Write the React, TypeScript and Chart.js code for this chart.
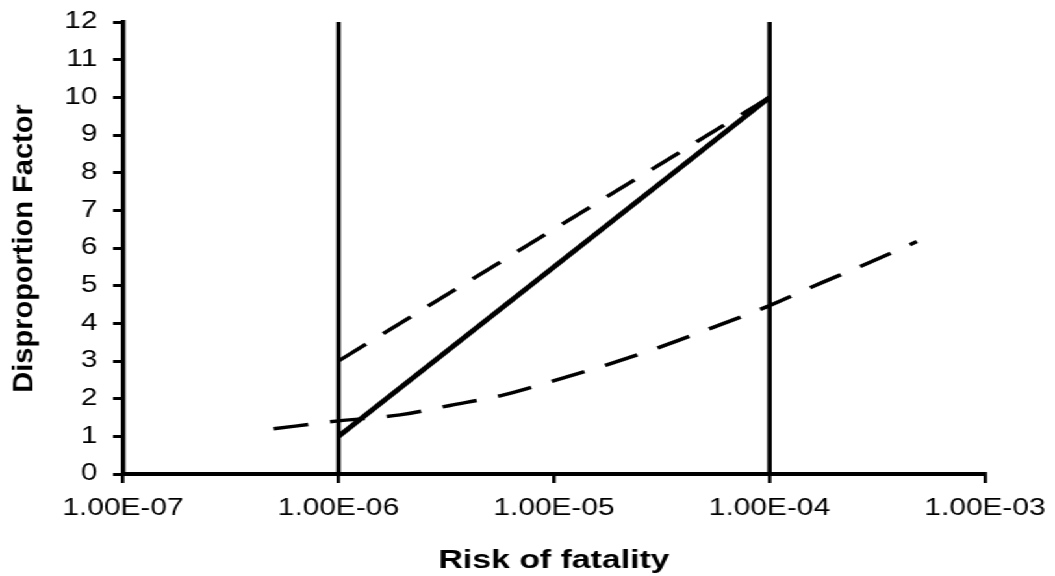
import { useEffect, useRef } from "react";
import { Chart, registerables } from "chart.js";

Chart.register(...registerables);

// ---- data ----
const xTickValues = [1e-7, 1e-6, 1e-5, 1e-4, 1e-3];
const xTickLabels = ["1.00E-07", "1.00E-06", "1.00E-05", "1.00E-04", "1.00E-03"];
const yMin = 0;
const yMax = 12;

const boundaryX = [1e-6, 1e-4];
const boundaryY = [0, 12];

const solidX = [1e-6, 1e-4];
const solidY = [1, 10];

const upperDashX = [1e-6, 1e-4];
const upperDashY = [3, 10];

const lowerDashX = [5e-7, 1e-6, 1.93e-6, 3.29e-6, 5.86e-6, 1.03e-5, 1.76e-5, 3.04e-5, 5.52e-5, 1e-4, 1.64e-4, 2.77e-4, 4.83e-4];
const lowerDashY = [1.2, 1.41, 1.57, 1.82, 2.1, 2.5, 2.9, 3.35, 3.9, 4.47, 5.01, 5.56, 6.17];

const xTitle = "Risk of fatality";
const yTitle = "Disproportion Factor";

// ---- layout ----
const LOGICAL_W = 812;
const H = 576;
const STRETCH = 1055 / LOGICAL_W;
const FONT = "'Liberation Sans', Arial, sans-serif";

const pts = (xs: number[], ys: number[]) => xs.map((x, i) => ({ x, y: ys[i] }));

const yTitlePlugin = {
  id: "yTitleUnstretched",
  afterDraw(chart: any) {
    const ctx = chart.ctx;
    ctx.save();
    ctx.translate(33 / STRETCH, 248.5);
    ctx.scale(1 / STRETCH, 1);
    ctx.rotate(-Math.PI / 2);
    ctx.fillStyle = "#000";
    ctx.font = `bold 29px ${FONT}`;
    ctx.textAlign = "center";
    ctx.textBaseline = "alphabetic";
    ctx.fillText(yTitle, 0, 0);
    ctx.restore();
  },
};

export default function App() {
  const ref = useRef<HTMLCanvasElement | null>(null);

  useEffect(() => {
    if (!ref.current) return;
    const dash = [27, 17];
    const chart = new Chart(ref.current, {
      type: "line",
      data: {
        datasets: [
          {
            label: "lower bound",
            data: pts([boundaryX[0], boundaryX[0]], boundaryY),
            borderColor: "#000",
            borderWidth: 3.5,
            pointRadius: 0,
            tension: 0,
          },
          {
            label: "upper bound",
            data: pts([boundaryX[1], boundaryX[1]], boundaryY),
            borderColor: "#000",
            borderWidth: 3.5,
            pointRadius: 0,
            tension: 0,
          },
          {
            label: "linear",
            data: pts(solidX, solidY),
            borderColor: "#000",
            borderWidth: 4.5,
            pointRadius: 0,
            tension: 0,
          },
          {
            label: "upper dashed",
            data: pts(upperDashX, upperDashY),
            borderColor: "#000",
            borderWidth: 3.5,
            borderDash: dash,
            pointRadius: 0,
            tension: 0,
          },
          {
            label: "lower dashed",
            data: pts(lowerDashX, lowerDashY),
            borderColor: "#000",
            borderWidth: 3.5,
            borderDash: dash,
            pointRadius: 0,
            cubicInterpolationMode: "monotone",
          },
        ],
      },
      options: {
        animation: false,
        responsive: false,
        devicePixelRatio: 1,
        layout: { padding: { left: 0, top: 22, right: LOGICAL_W - 985 / STRETCH, bottom: 0 } },
        plugins: {
          legend: { display: false },
          tooltip: { enabled: false },
        },
        scales: {
          x: {
            type: "logarithmic",
            min: xTickValues[0],
            max: xTickValues[xTickValues.length - 1],
            afterBuildTicks: (scale: any) => {
              scale.ticks = xTickValues.map((v) => ({ value: v }));
            },
            afterFit: (scale: any) => {
              scale.height = H - 474;
              scale.paddingLeft = 0;
              scale.paddingRight = 0;
            },
            border: { display: true, color: "#000", width: 4 },
            grid: {
              display: true,
              drawOnChartArea: false,
              drawTicks: true,
              tickLength: 9,
              color: "#000",
              lineWidth: 2.7,
            },
            ticks: {
              autoSkip: false,
              maxRotation: 0,
              minRotation: 0,
              padding: 12,
              color: "#000",
              font: { family: FONT, size: 23 },
              callback: (_v: any, i: number) => xTickLabels[i],
            },
            title: {
              display: true,
              text: xTitle,
              color: "#000",
              font: { family: FONT, size: 26, weight: "bold" },
              padding: { top: 0, bottom: 0 },
            },
          },
          y: {
            type: "linear",
            min: yMin,
            max: yMax,
            afterFit: (scale: any) => {
              scale.width = 123 / STRETCH;
              scale.paddingTop = 0;
              scale.paddingBottom = 0;
            },
            border: { display: true, color: "#000", width: 3.5 },
            grid: {
              display: true,
              drawOnChartArea: false,
              drawTicks: true,
              tickLength: 7.7,
              color: "#000",
              lineWidth: 3,
            },
            ticks: {
              stepSize: 1,
              padding: 12,
              color: "#000",
              font: { family: FONT, size: 23 },
            },
          },
        },
      },
      plugins: [yTitlePlugin],
    } as any);
    return () => chart.destroy();
  }, []);

  return (
    <div
      style={{
        position: "absolute",
        left: 0,
        top: 0,
        width: LOGICAL_W,
        height: H,
        transform: `scaleX(${STRETCH})`,
        transformOrigin: "0 0",
        background: "#fff",
      }}
    >
      <canvas ref={ref} width={LOGICAL_W} height={H} style={{ display: "block", width: LOGICAL_W, height: H }} />
    </div>
  );
}
